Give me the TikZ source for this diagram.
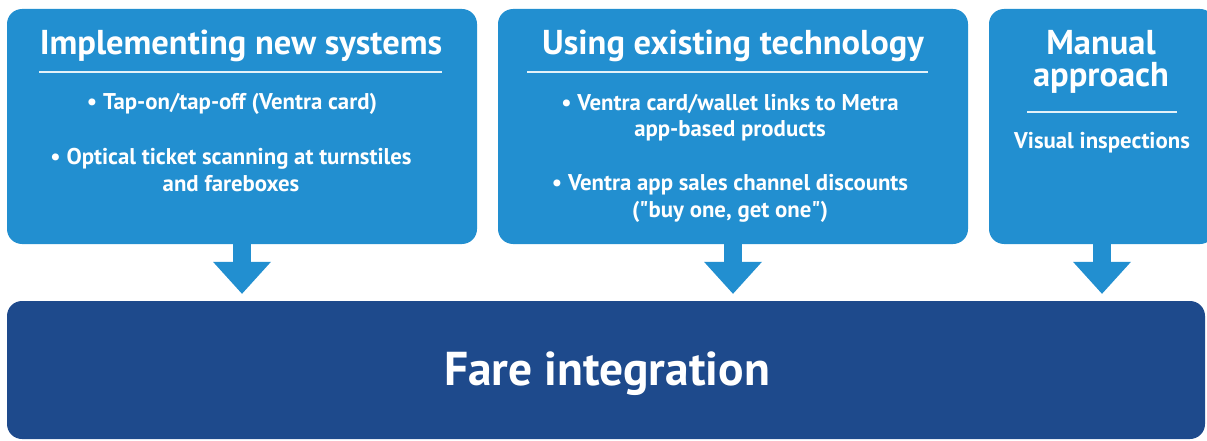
\documentclass[tikz,border=0pt]{standalone}
\usepackage{fontspec}
\setmainfont{PT Sans}
\usetikzlibrary{arrows.meta}

\definecolor{boxblue}{RGB}{34,143,208}
\definecolor{fareblue}{RGB}{30,74,140}

\begin{document}
\begin{tikzpicture}[x=1pt, y=-1pt,
	panel/.style = {fill=boxblue, rounded corners=15pt, inner sep=0pt, minimum height=235pt},
	heading/.style = {text=white, anchor=base, align=center, font=\fontsize{34.5}{32}\selectfont\bfseries},
	item/.style = {text=white, anchor=base, align=center, font=\fontsize{22.8}{26.5}\selectfont\bfseries},
	rule/.style = {draw=white!88!boxblue, line width=1.5pt},
	flowarrow/.style = {draw=boxblue, line width=18pt, shorten >=7pt,
		-{Triangle[width=58pt, length=32pt, line width=0pt]}}]

	\useasboundingbox (0, 0) rectangle (1207, 441);

	% Three approaches
	
	\node [panel, minimum width=470pt] (impl) at (242, 126.5) {};
	\node [panel, minimum width=470pt] (tech) at (733, 126.5) {};
	\node [panel, minimum width=226pt] (manual) at (1102, 126.5) {};
	
	% Fare integration bar
	
	\node [fill=fareblue, rounded corners=15pt, minimum width=1198pt, minimum height=138pt] (fare) at (606, 370) {};
	\node [text=white, anchor=base, font=\fontsize{47.5}{48}\selectfont\bfseries] (farelabel) at (607, 385) {Fare integration};
	
	% Headings and rules
	
	\node [heading] (implhead) at (241, 55) {Implementing new systems};
	\node [heading] (techhead) at (733, 55) {Using existing technology};
	\node [heading] (manualhead) at (1101, 87) {Manual\\approach};
	
	\foreach \a/\b/\y in {39/442/72, 527/928/72, 1027/1177/112}
		\draw [rule] (\a, \y) -- (\b, \y);
	
	% Items
	
	\node [item] (tap) at (232, 110) {• Tap-on/tap-off (Ventra card)};
	\node [item] (optical) at (231, 191) {• Optical ticket scanning at turnstiles\\and fareboxes};
	\node [item] (links) at (730, 137) {• Ventra card/wallet links to Metra\\app-based products};
	\node [item] (sales) at (730, 217) {• Ventra app sales channel discounts\\(\textquotedbl buy one, get one\textquotedbl)};
	\node [item] (visual) at (1102, 148) {Visual inspections};
	
	% Arrows into the bar
	
	\foreach \b in {impl, tech, manual}
		\draw [flowarrow] (\b.south) -- (\b.south |- fare.north);

\end{tikzpicture}
\end{document}
